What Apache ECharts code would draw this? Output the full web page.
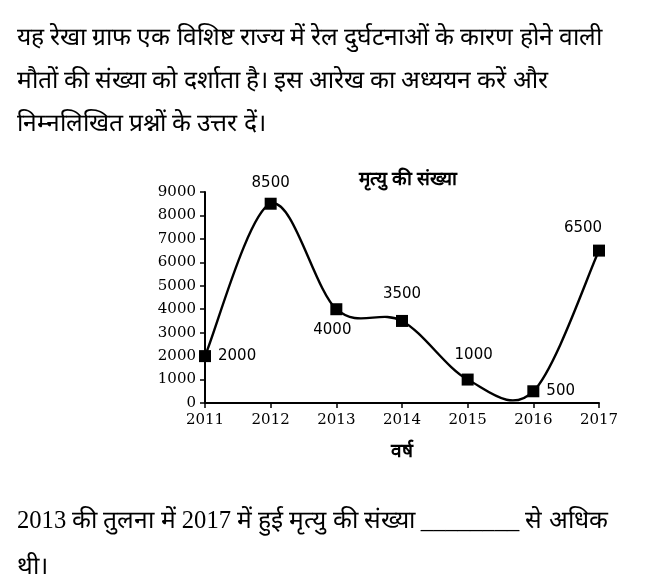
<!DOCTYPE html>
<html><head><meta charset="utf-8">
<script src="https://cdn.jsdelivr.net/npm/echarts@6/dist/echarts.min.js"></script>
<style>html,body{margin:0;padding:0;background:#fff}#c{width:665px;height:586px}</style>
</head><body><div id="c"></div>
<script>
const years = ['2011','2012','2013','2014','2015','2016','2017'];
const deaths = [2000, 8500, 4000, 3500, 1000, 500, 6500];
const yTicks = [0,1000,2000,3000,4000,5000,6000,7000,8000,9000];
const labelPos = ['right','top','bottom','top','top','right','top'];
const labelOffset = [[0,0],[0,0],[-4,0],[0,-6],[6,-4],[0,0],[-16,-2]];
const titleText = 'मृत्यु की संख्या';
const xName = 'वर्ष';
const introLines = ['यह रेखा ग्राफ एक विशिष्ट राज्य में रेल दुर्घटनाओं के कारण होने वाली','मौतों की संख्या को दर्शाता है। इस आरेख का अध्ययन करें और','निम्नलिखित प्रश्नों के उत्तर दें।'];
const questionLines = ['2013 की तुलना में 2017 में हुई मृत्यु की संख्या ________ से अधिक','थी।'];

const serif = '"Liberation Serif","DejaVu Serif",serif';
const numSerif = '"DejaVu Serif",serif';
const chart = echarts.init(document.getElementById('c'));
const textEls = [];
introLines.forEach((t,i)=>textEls.push({type:'text',x:17,y:39+i*43,style:{text:t,font:'24.6px '+serif,fill:'#000',verticalAlign:'middle'}}));
questionLines.forEach((t,i)=>textEls.push({type:'text',x:17,y:522+i*46,style:{text:t,font:'24.6px '+serif,fill:'#000',verticalAlign:'middle'}}));

// Catmull-Rom style smooth curve through the data points (via axis coords)
function renderSegment(params, api){
  const i = params.dataIndex;
  if (i >= deaths.length - 1) return null;
  const n = deaths.length;
  const p = k => { const j = Math.max(0,Math.min(n-1,k)); return api.coord([j, deaths[j]]); };
  const p0 = p(i-1), p1 = p(i), p2 = p(i+1), p3 = p(i+2);
  const t = 1/6;
  return {type:'bezierCurve',
    shape:{x1:p1[0],y1:p1[1],x2:p2[0],y2:p2[1],
      cpx1:p1[0]+(p2[0]-p0[0])*t, cpy1:p1[1]+(p2[1]-p0[1])*t,
      cpx2:p2[0]-(p3[0]-p1[0])*t, cpy2:p2[1]-(p3[1]-p1[1])*t},
    style:{stroke:'#000',lineWidth:2.4,fill:null}};
}

chart.setOption({
  animation:false,
  title:{text:titleText,left:403,top:166,textAlign:'center',textStyle:{fontFamily:serif,fontSize:19,fontWeight:'bold',color:'#000'}},
  graphic:textEls,
  grid:{left:205,right:66,top:192,bottom:183},
  xAxis:{type:'category',data:years,boundaryGap:false,
    name:xName,nameLocation:'middle',nameGap:40,nameTextStyle:{fontFamily:serif,fontSize:19,fontWeight:'bold',color:'#000'},
    axisLine:{lineStyle:{color:'#000',width:2}},axisTick:{length:5,lineStyle:{color:'#000',width:1.5}},
    axisLabel:{fontFamily:numSerif,fontSize:15,color:'#000',margin:10},splitLine:{show:false}},
  yAxis:{type:'value',min:0,max:9000,interval:1000,
    axisLine:{show:true,lineStyle:{color:'#000',width:2}},axisTick:{show:true,length:5,lineStyle:{color:'#000',width:1.5}},
    axisLabel:{fontFamily:numSerif,fontSize:15,color:'#000',margin:9,formatter:v=>yTicks.includes(v)?String(v):''},splitLine:{show:false}},
  series:[
    {type:'custom',renderItem:renderSegment,data:deaths,z:2},
    {type:'scatter',data:deaths.map((v,i)=>({value:v,label:{position:labelPos[i],offset:labelOffset[i]}})),
    symbol:'rect',symbolSize:12,itemStyle:{color:'#000',opacity:1},z:3,
    label:{show:true,fontFamily:'"DejaVu Sans",sans-serif',fontSize:15,color:'#000',distance:7}}]
});
</script></body></html>
